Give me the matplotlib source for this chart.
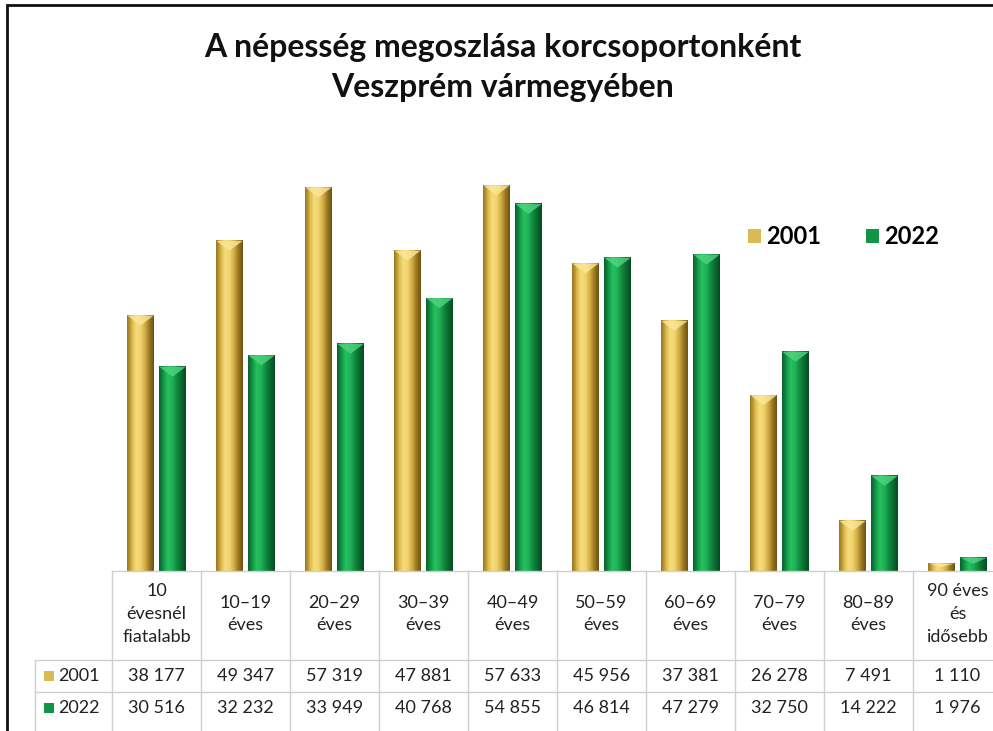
import matplotlib
matplotlib.use("Agg")
import matplotlib.pyplot as plt
import numpy as np
from matplotlib.patches import Rectangle, Patch, Polygon
from matplotlib.colors import LinearSegmentedColormap

plt.rcParams["font.family"] = ["Lato", "DejaVu Sans"]

categories = ["10\névesnél\nfiatalabb", "10–19\néves", "20–29\néves", "30–39\néves",
              "40–49\néves", "50–59\néves", "60–69\néves", "70–79\néves",
              "80–89\néves", "90 éves\nés\nidősebb"]
pop_2001 = [38177, 49347, 57319, 47881, 57633, 45956, 37381, 26278, 7491, 1110]
pop_2022 = [30516, 32232, 33949, 40768, 54855, 46814, 47279, 32750, 14222, 1976]
series = [("2001", pop_2001), ("2022", pop_2022)]

W, H = 993, 731
COLW = 89  # px per category column
fig = plt.figure(figsize=(W / 100, H / 100), dpi=100)
fig.patch.set_facecolor("white")

# chart frame (the right/bottom edges are cropped off in the source)
fig.patches.append(Rectangle((7 / W, -0.1), 1.2, 1 - 5 / H + 0.1, transform=fig.transFigure,
                             fill=False, ec="#111111", lw=2.0))

# axes: baseline at y=571 px
ax = fig.add_axes([112 / W, 160 / H, 10 * COLW / W, 435 / H])
ax.set_axis_off()
YMAX = 65000
px_per_unit = 435 / YMAX

gold = LinearSegmentedColormap.from_list("gold", ["#8a6a18", "#d8b445", "#f6dc7a", "#f2d470",
                                                  "#d2ae45", "#9c7a22", "#6e5210"])
green = LinearSegmentedColormap.from_list("green", ["#0a5a2a", "#139a48", "#27c060", "#1fb055",
                                                    "#108a3e", "#0a6a30", "#064a20"])
cmaps = [gold, green]
tops = ["#fbe79a", "#4fd580"]
edges = ["#b89838", "#0d7a38"]

bw = 0.3
offs = [-0.18, 0.18]
grad = np.linspace(0, 1, 64).reshape(1, -1)
bevel = 10 / px_per_unit
for (name, vals), off, cm, tc, ec in zip(series, offs, cmaps, tops, edges):
    for i, v in enumerate(vals):
        x0, x1 = i + off - bw / 2, i + off + bw / 2
        ax.imshow(grad, cmap=cm, extent=(x0, x1, 0, v), aspect="auto", zorder=2,
                  interpolation="bilinear")
        d = min(bevel, v * 0.45)
        ax.add_patch(Polygon([(x0, v), (x1, v), (i + off, v - d)], closed=True,
                             fc=tc, ec="none", alpha=0.8, zorder=3))
        ax.add_patch(Polygon([(x0, v), (x0 + bw * 0.12, v - d * 0.5), (x0 + bw * 0.12, 0), (x0, 0)],
                             closed=True, fc=ec, ec="none", alpha=0.35, zorder=3))

ax.set_xlim(-0.5, 9.5)
ax.set_ylim(0, YMAX)

# data table below the bars
tr = ax.get_xaxis_transform()
def yax(px):
    return (571 - px) / 435

grid_c = "#cfcfcf"
n = len(categories)
lab_w = 77 / COLW
for k in range(n + 1):
    ax.plot([k - 0.5, k - 0.5], [yax(571), yax(740)], transform=tr, color=grid_c,
            lw=1, clip_on=False)
ax.plot([-0.5 - lab_w, -0.5 - lab_w], [yax(660), yax(740)], transform=tr, color=grid_c,
        lw=1, clip_on=False)
ax.plot([-0.5, n - 0.5], [yax(571), yax(571)], transform=tr, color=grid_c, lw=1, clip_on=False)
for py in (660, 692):
    ax.plot([-0.5 - lab_w, n - 0.5], [yax(py), yax(py)], transform=tr, color=grid_c,
            lw=1, clip_on=False)

for i, lab in enumerate(categories):
    ax.text(i, yax(614), lab, transform=tr, ha="center", va="center", fontsize=13,
            color="#222222", linespacing=1.5, clip_on=False)

row_y = [676, 708]
sq_cols = ["#d9bb55", "#129447"]
for (name, vals), py, sc in zip(series, row_y, sq_cols):
    for i, v in enumerate(vals):
        ax.text(i, yax(py), f"{v:,}".replace(",", " "), transform=tr, ha="center",
                va="center", fontsize=13, color="#222222", clip_on=False)
    fig.text(58 / W, 1 - py / H, name, ha="left", va="center", fontsize=13, color="#222222")
    fig.patches.append(Rectangle((44 / W, 1 - (py + 5) / H), 10 / W, 10 / H,
                                 transform=fig.transFigure, fc=sc, ec="none"))

# title
fig.text(503 / W, 1 - 47 / H, "A népesség megoszlása korcsoportonként", ha="center",
         va="center", fontsize=23, fontweight="bold", color="#111111")
fig.text(503 / W, 1 - 88 / H, "Veszprém vármegyében", ha="center", va="center",
         fontsize=23, fontweight="bold", color="#111111")

# legend
handles = [Patch(fc=sq_cols[0], ec="none", label="2001"), Patch(fc=sq_cols[1], ec="none", label="2022")]
fig.legend(handles=handles, loc="center left", bbox_to_anchor=(739 / W, 1 - 237 / H), ncol=2,
           frameon=False, prop={"weight": "bold", "size": 17}, handlelength=0.55,
           handleheight=0.55, handletextpad=0.2, columnspacing=1.9, borderaxespad=0)

fig.savefig("out.png", dpi=100)
